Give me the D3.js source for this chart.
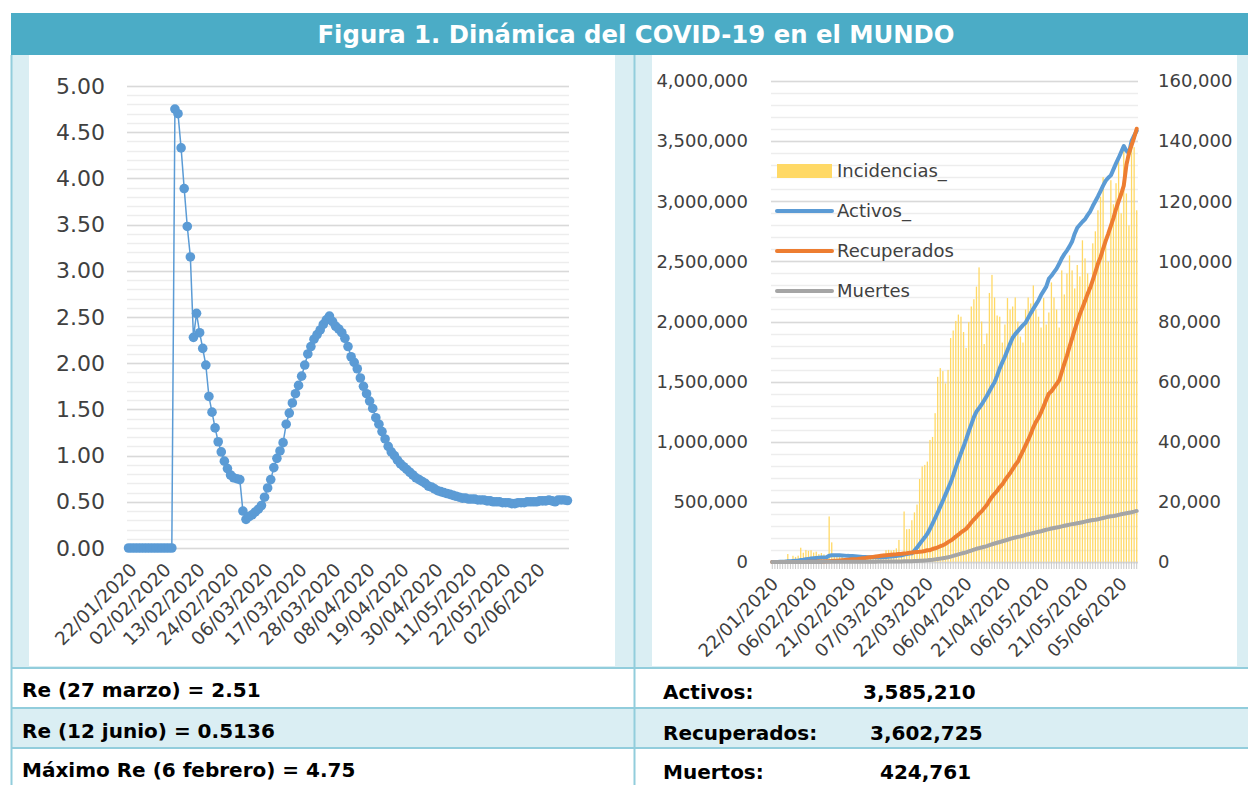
<!DOCTYPE html>
<html>
<head>
<meta charset="utf-8">
<script src="https://d3js.org/d3.v7.min.js"></script>
<title>Figura 1. Dinámica del COVID-19 en el MUNDO</title>
<style>
  body { margin: 0; background: #fff; }
  svg text { font-family: "DejaVu Sans", sans-serif; }
</style>
</head>
<body>
<div id="figura"></div>
<script>
// ---- datos ----
var tituloFigura = "Figura 1. Dinámica del COVID-19 en el MUNDO";

// Re diario, 22/01/2020 a 12/06/2020
var reValores = [
  0,0,0,0,0,0,0,0,0,0,0,0,0,0,0,
  4.75,4.70,4.33,3.89,3.48,3.15,2.28,2.54,2.33,2.16,1.98,1.64,1.47,1.30,1.15,
  1.04,0.94,0.86,0.79,0.76,0.75,0.74,0.40,0.31,0.34,0.36,0.39,0.42,0.46,0.55,
  0.65,0.74,0.87,0.97,1.05,1.14,1.34,1.46,1.57,1.67,1.76,1.86,1.98,2.10,2.18,
  2.26,2.31,2.36,2.42,2.47,2.51,2.45,2.40,2.37,2.33,2.27,2.18,2.07,2.01,1.94,
  1.84,1.75,1.67,1.59,1.51,1.41,1.34,1.26,1.18,1.10,1.04,1.00,0.95,0.91,0.88,
  0.85,0.82,0.79,0.76,0.74,0.72,0.70,0.67,0.66,0.64,0.62,0.61,0.60,0.59,0.58,
  0.57,0.56,0.55,0.54,0.54,0.53,0.53,0.53,0.52,0.52,0.52,0.51,0.51,0.50,0.50,
  0.50,0.49,0.49,0.49,0.48,0.48,0.49,0.49,0.49,0.50,0.50,0.50,0.50,0.51,0.51,
  0.51,0.52,0.51,0.50,0.52,0.52,0.52,0.5136
];
var reTickLabels = ["22/01/2020","02/02/2020","13/02/2020","24/02/2020","06/03/2020","17/03/2020",
  "28/03/2020","08/04/2020","19/04/2020","30/04/2020","11/05/2020","22/05/2020","02/06/2020"];
var reYTicks = [0,0.5,1,1.5,2,2.5,3,3.5,4,4.5,5];

// Mundo, 22/01/2020 a 11/06/2020 (miles)
var incidenciasMiles = [
  0,0.10,0.29,0.49,0.68,0.81,2.65,0.59,2.07,1.69,2.11,4.75,3.09,4.01,3.74,
  3.92,3.15,3.43,2.61,2.98,2.54,2.02,15.15,6.53,2.61,2.05,2.06,1.87,0.53,0.63,
  0.96,1.46,0.62,0.61,0.86,0.93,1.16,1.38,1.84,2.21,1.86,2.52,2.29,2.76,3.93,
  4.03,3.86,3.99,4.54,7.35,2.53,16.8,10.9,11.0,13.9,16.5,19.1,27.6,31.8,32.3,
  33.4,40.6,41.6,49.5,61.6,64.5,63.5,59.4,63.9,74.5,77.0,80.2,82.3,81.6,76.5,
  71.2,79.8,85.0,87.4,91.6,98.0,80.0,72.5,76.0,89.5,95.5,88.0,82.0,81.6,73.0,
  79.0,87.8,84.0,85.0,88.0,80.0,75.0,73.0,84.0,88.0,86.0,92.0,84.0,81.6,78.0,
  87.8,79.0,83.0,93.0,88.0,84.0,78.0,97.0,89.0,96.0,102.0,97.0,91.0,98.8,95.0,
  107.0,101.0,96.0,91.0,106.0,110.0,117.0,121.5,128.0,106.0,100.0,127.0,119.0,126.0,133.7,
  116.0,139.0,122.6,112.0,140.4,138.0,117.0
];
var activosMiles = [
  0.5,0.6,0.9,1.3,2.0,2.8,5.4,5.9,7.9,9.5,11.5,16,19,23,26,
  29,31,33,35,37,38,39,52,56,56,56,56,55,53,51,
  50,50,48,46,44,42,41,40,40,40,40,40,40,41,42,
  44,46,48,50,55,55,62,66,70,72,95,120,150,178,205,
  235,275,320,365,412,460,510,560,610,660,720,785,845,905,960,
  1020,1085,1145,1205,1250,1280,1310,1345,1380,1420,1460,1495,1550,1610,1660,
  1707,1760,1815,1865,1895,1920,1945,1970,1990,2030,2070,2105,2140,2175,2220,
  2255,2290,2355,2380,2410,2440,2480,2525,2560,2590,2625,2665,2730,2780,2805,
  2830,2850,2885,2915,2960,3000,3040,3085,3130,3170,3195,3215,3265,3315,3360,
  3410,3459,3420,3400,3500,3545,3585.21
];
var recuperadosMiles = [
  0.03,0.03,0.04,0.04,0.05,0.06,0.1,0.12,0.14,0.22,0.28,0.47,0.62,0.85,1.1,
  1.5,2.0,2.6,3.2,4.0,4.7,5.6,6.7,8.1,9.4,10.8,12.5,14.4,16.1,18.2,
  20.0,22.7,23.4,25.2,27.9,30.4,33.3,36.7,39.8,42.7,45.6,48.2,51.2,53.8,55.9,
  58.3,60.7,62.4,64.4,67.0,68.3,70.3,72.6,76.0,78.1,80.8,83.3,84.9,87.4,91.7,
  97.7,98.3,108,114,122,131,139,150,165,178,193,211,227,246,260,
  276,300,328,353,376,402,421,448,474,510,542,567,591,623,645,
  680,710,738,772,806,833,880,925,970,1015,1065,1120,1165,1200,1245,
  1295,1350,1400,1420,1450,1480,1510,1580,1650,1715,1790,1860,1930,1995,2060,
  2115,2170,2230,2280,2345,2410,2480,2535,2605,2670,2730,2795,2860,2935,3000,
  3060,3130,3300,3400,3465,3530,3602.725
];
var muertesMiles = [
  0.017,0.018,0.026,0.042,0.056,0.082,0.131,0.133,0.171,0.213,
  0.259,0.362,0.426,0.492,0.564,0.634,0.719,0.806,0.906,1.013,
  1.113,1.118,1.371,1.523,1.666,1.770,1.868,2.007,2.122,2.247,
  2.251,2.458,2.469,2.629,2.708,2.770,2.814,2.872,2.941,2.996,
  3.085,3.160,3.254,3.348,3.460,3.558,3.803,3.996,4.262,4.615,
  4.720,5.404,5.819,6.440,7.126,7.905,8.733,9.867,11.30,13.01,
  14.62,16.76,19.02,21.79,24.79,28.27,31.88,35.41,39.58,44.62,
  50.50,57.09,63.24,69.30,74.73,80.22,87.69,94.98,102.5,110.0,
  115.7,121.0,126.3,132.4,140.1,147.3,153.9,159.9,166.0,172.8,
  178.6,185.0,191.6,198.0,204.0,208.9,213.0,218.0,225.0,231.0,
  236.0,241.0,246.0,251.0,256.0,262.0,268.0,273.0,279.0,283.0,
  287.0,291.0,296.0,301.0,306.0,311.0,315.0,318.0,322.0,326.0,
  331.0,336.0,341.0,345.0,349.0,352.0,356.0,361.0,366.0,371.0,
  376.0,380.0,383.0,387.0,392.0,397.0,402.0,406.0,410.0,414.0,
  419.0,424.761
];
var mundoTickLabels = ["22/01/2020","06/02/2020","21/02/2020","07/03/2020","22/03/2020",
  "06/04/2020","21/04/2020","06/05/2020","21/05/2020","05/06/2020"];
var casosTicks = [0,500000,1000000,1500000,2000000,2500000,3000000,3500000,4000000];
var incidenciasTicks = [0,20000,40000,60000,80000,100000,120000,140000,160000];
var leyenda = ["Incidencias_","Activos_","Recuperados","Muertes"];

var notasRe = ["Re (27 marzo) = 2.51","Re (12 junio) = 0.5136","Máximo Re (6 febrero) = 4.75"];
var notasNombre = ["Activos:","Recuperados:","Muertos:"];
var notasValor = [3585210, 3602725, 424761];

// ---- fechas ----
var fmt = d3.timeFormat("%d/%m/%Y");
var inicio = new Date(2020, 0, 22);
var reFechas = reValores.map(function(d, i){ return fmt(d3.timeDay.offset(inicio, i)); });
var mundoFechas = activosMiles.map(function(d, i){ return fmt(d3.timeDay.offset(inicio, i)); });

var mundo = mundoFechas.map(function(f, i){
  return {
    fecha: f,
    incidencias: incidenciasMiles[i] * 1000,
    activos: activosMiles[i] * 1000,
    recuperados: recuperadosMiles[i] * 1000,
    muertes: muertesMiles[i] * 1000
  };
});

var azul = "#5B9BD5", naranja = "#ED7D31", gris = "#A5A5A5", amarillo = "#FFD966";
var celeste = "#DAEEF3", borde = "#92CDDC", texto = "#404040";

var svg = d3.select("#figura").append("svg")
  .attr("width", 1248)
  .attr("height", 785);

// ---- marco tipo tabla ----
svg.append("rect").attr("x", 11).attr("y", 55).attr("width", 1237).attr("height", 613).attr("fill", celeste);
svg.append("rect").attr("x", 29).attr("y", 55).attr("width", 586).attr("height", 611).attr("fill", "#fff");
svg.append("rect").attr("x", 652).attr("y", 55).attr("width", 585).attr("height", 611).attr("fill", "#fff");
svg.append("rect").attr("x", 11).attr("y", 708).attr("width", 1237).attr("height", 40).attr("fill", celeste);
svg.append("rect").attr("x", 11).attr("y", 13).attr("width", 1237).attr("height", 42).attr("fill", "#4BACC6");

svg.append("text")
  .attr("x", 636).attr("y", 43)
  .attr("text-anchor", "middle")
  .attr("fill", "#fff")
  .attr("font-weight", "bold")
  .attr("font-size", 25)
  .attr("textLength", 637)
  .attr("lengthAdjust", "spacingAndGlyphs")
  .text(tituloFigura);

[668, 708, 748].forEach(function(y){
  svg.append("line").attr("x1", 11).attr("x2", 1248).attr("y1", y).attr("y2", y)
    .attr("stroke", borde).attr("stroke-width", 2);
});
svg.append("line").attr("x1", 11.5).attr("x2", 11.5).attr("y1", 55).attr("y2", 785)
  .attr("stroke", borde).attr("stroke-width", 2);
svg.append("line").attr("x1", 634.5).attr("x2", 634.5).attr("y1", 55).attr("y2", 785)
  .attr("stroke", borde).attr("stroke-width", 2);

// ---- grafico izquierdo: Re ----
var xRe = d3.scalePoint().domain(reFechas).range([127, 569]).padding(0.5);
var yRe = d3.scaleLinear().domain([0, 5]).range([548, 86]);

var gRe = svg.append("g");
gRe.selectAll(".menor").data(yRe.ticks(50)).enter().append("line")
  .attr("class", "menor")
  .attr("x1", 127).attr("x2", 569)
  .attr("y1", function(d){ return Math.round(yRe(d)) + 0.5; })
  .attr("y2", function(d){ return Math.round(yRe(d)) + 0.5; })
  .attr("stroke", "#EDEDED").attr("stroke-width", 1.5);
gRe.selectAll(".mayor").data(reYTicks).enter().append("line")
  .attr("class", "mayor")
  .attr("x1", 127).attr("x2", 569)
  .attr("y1", function(d){ return Math.round(yRe(d)) + 0.5; })
  .attr("y2", function(d){ return Math.round(yRe(d)) + 0.5; })
  .attr("stroke", "#D9D9D9").attr("stroke-width", 1.5);

var ejeYRe = gRe.append("g").attr("transform", "translate(127,0)")
  .call(d3.axisLeft(yRe).tickValues(reYTicks).tickFormat(d3.format(".2f")).tickSize(0).tickPadding(22));
ejeYRe.select(".domain").remove();
ejeYRe.selectAll("text").attr("font-size", 22).attr("fill", texto).attr("font-family", "DejaVu Sans");

var ejeXRe = gRe.append("g").attr("transform", "translate(0,548)")
  .call(d3.axisBottom(xRe).tickValues(reTickLabels).tickSize(0));
ejeXRe.select(".domain").remove();
ejeXRe.selectAll("text")
  .attr("x", 0).attr("y", 0).attr("dy", 0)
  .attr("transform", "translate(9,23) rotate(-45)")
  .style("text-anchor", "end")
  .attr("font-size", 18.5)
  .attr("fill", texto)
  .attr("font-family", "DejaVu Sans");

gRe.append("path")
  .datum(reValores)
  .attr("fill", "none")
  .attr("stroke", azul)
  .attr("stroke-width", 1.5)
  .attr("d", d3.line()
    .x(function(d, i){ return xRe(reFechas[i]); })
    .y(function(d){ return yRe(d); }));

gRe.selectAll(".punto").data(reValores).enter().append("circle")
  .attr("class", "punto")
  .attr("cx", function(d, i){ return xRe(reFechas[i]); })
  .attr("cy", function(d){ return yRe(d); })
  .attr("r", 4.8)
  .attr("fill", azul);

// ---- grafico derecho: Mundo ----
var xM = d3.scaleBand().domain(mundoFechas).range([771, 1138]).paddingInner(0.5).paddingOuter(0.25);
var yL = d3.scaleLinear().domain([0, 4000000]).range([562, 81]);
var yR = d3.scaleLinear().domain([0, 160000]).range([562, 81]);
var centro = function(f){ return xM(f) + xM.bandwidth() / 2; };

var gM = svg.append("g");
gM.selectAll(".menor").data(d3.range(0, 4000001, 100000)).enter().append("line")
  .attr("class", "menor")
  .attr("x1", 771).attr("x2", 1138)
  .attr("y1", function(d){ return Math.round(yL(d)) + 0.5; })
  .attr("y2", function(d){ return Math.round(yL(d)) + 0.5; })
  .attr("stroke", "#EDEDED").attr("stroke-width", 1.5);
gM.selectAll(".mayor").data(casosTicks).enter().append("line")
  .attr("class", "mayor")
  .attr("x1", 771).attr("x2", 1138)
  .attr("y1", function(d){ return Math.round(yL(d)) + 0.5; })
  .attr("y2", function(d){ return Math.round(yL(d)) + 0.5; })
  .attr("stroke", "#D9D9D9").attr("stroke-width", 1.5);

gM.selectAll(".barra").data(mundo).enter().append("rect")
  .attr("class", "barra")
  .attr("x", function(d){ return xM(d.fecha); })
  .attr("width", xM.bandwidth())
  .attr("y", function(d){ return yR(d.incidencias); })
  .attr("height", function(d){ return 562 - yR(d.incidencias); })
  .attr("fill", amarillo);

// eje x con marcas
gM.append("line").attr("x1", 771).attr("x2", 1138).attr("y1", 562.5).attr("y2", 562.5)
  .attr("stroke", "#D9D9D9").attr("stroke-width", 1.5);
gM.selectAll(".marca").data(mundoFechas).enter().append("line")
  .attr("class", "marca")
  .attr("x1", function(d){ return centro(d); })
  .attr("x2", function(d){ return centro(d); })
  .attr("y1", 562).attr("y2", 569)
  .attr("stroke", "#C8C8C8").attr("stroke-width", 1);

var linea = function(campo){
  return d3.line()
    .x(function(d){ return centro(d.fecha); })
    .y(function(d){ return yL(d[campo]); });
};
[["activos", azul], ["recuperados", naranja], ["muertes", gris]].forEach(function(s){
  gM.append("path")
    .datum(mundo)
    .attr("fill", "none")
    .attr("stroke", s[1])
    .attr("stroke-width", 4)
    .attr("stroke-linejoin", "round")
    .attr("stroke-linecap", "round")
    .attr("d", linea(s[0]));
});

var ejeL = gM.append("g").attr("transform", "translate(771,0)")
  .call(d3.axisLeft(yL).tickValues(casosTicks).tickFormat(d3.format(",")).tickSize(0).tickPadding(23));
ejeL.select(".domain").remove();
ejeL.selectAll("text").attr("font-size", 18).attr("fill", texto).attr("font-family", "DejaVu Sans");

var ejeR = gM.append("g").attr("transform", "translate(1138,0)")
  .call(d3.axisRight(yR).tickValues(incidenciasTicks).tickFormat(d3.format(",")).tickSize(0).tickPadding(20));
ejeR.select(".domain").remove();
ejeR.selectAll("text").attr("font-size", 18).attr("fill", texto).attr("font-family", "DejaVu Sans");

var ejeXM = gM.append("g").attr("transform", "translate(0,562)")
  .call(d3.axisBottom(xM).tickValues(mundoTickLabels).tickSize(0));
ejeXM.select(".domain").remove();
ejeXM.selectAll("text")
  .attr("x", 0).attr("y", 0).attr("dy", 0)
  .attr("transform", "translate(7,23) rotate(-45)")
  .style("text-anchor", "end")
  .attr("font-size", 18)
  .attr("fill", texto)
  .attr("font-family", "DejaVu Sans");

// leyenda
var colores = [amarillo, azul, naranja, gris];
var gLey = gM.selectAll(".ley").data(leyenda).enter().append("g")
  .attr("class", "ley")
  .attr("transform", function(d, i){ return "translate(775," + (171 + i * 40) + ")"; });
gLey.each(function(d, i){
  var g = d3.select(this);
  if (i === 0) {
    g.append("rect").attr("x", 2).attr("y", -7).attr("width", 55).attr("height", 14).attr("fill", colores[i]);
  } else {
    g.append("line").attr("x1", 2).attr("x2", 57).attr("y1", 0).attr("y2", 0)
      .attr("stroke", colores[i]).attr("stroke-width", 4).attr("stroke-linecap", "round");
  }
  g.append("text").attr("x", 62).attr("y", 0).attr("dy", "0.35em")
    .attr("font-size", 18).attr("fill", texto).text(d);
});

// ---- notas inferiores ----
var filasY = [697, 738, 777];
svg.selectAll(".notaRe").data(notasRe).enter().append("text")
  .attr("class", "notaRe")
  .attr("x", 22)
  .attr("y", function(d, i){ return filasY[i]; })
  .attr("font-size", 20).attr("font-weight", "bold").attr("fill", "#000")
  .text(function(d){ return d; });

svg.selectAll(".notaNombre").data(notasNombre).enter().append("text")
  .attr("class", "notaNombre")
  .attr("x", 663)
  .attr("y", function(d, i){ return filasY[i] + 2; })
  .attr("font-size", 20).attr("font-weight", "bold").attr("fill", "#000")
  .text(function(d){ return d; });

var valorX = [863, 870, 880];
svg.selectAll(".notaValor").data(notasValor).enter().append("text")
  .attr("class", "notaValor")
  .attr("x", function(d, i){ return valorX[i]; })
  .attr("y", function(d, i){ return filasY[i] + 2; })
  .attr("font-size", 20).attr("font-weight", "bold").attr("fill", "#000")
  .text(function(d){ return d3.format(",")(d); });
</script>
</body>
</html>
